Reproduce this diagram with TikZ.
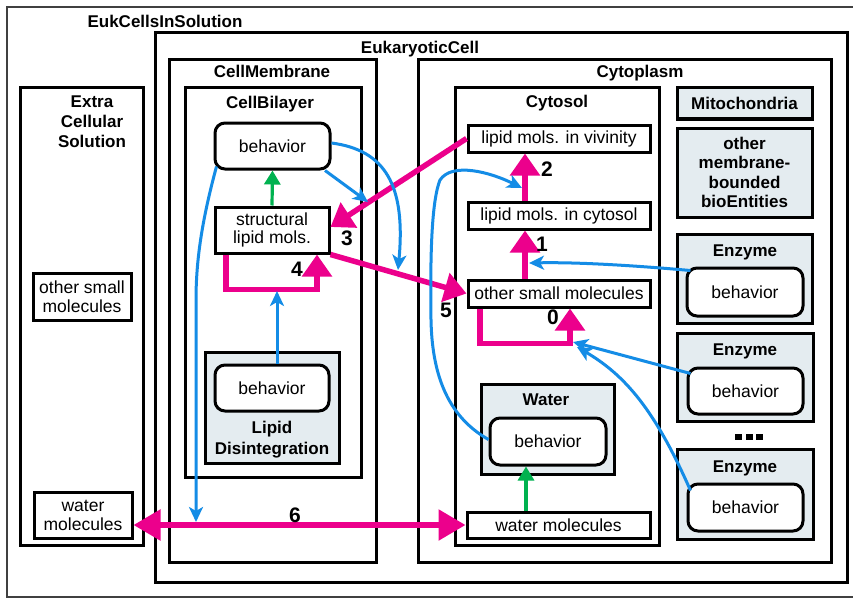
\documentclass[tikz,border=0pt]{standalone}
\usepackage{fontspec}
\setmainfont{Liberation Sans}
\usetikzlibrary{arrows.meta,calc}
\definecolor{mpink}{RGB}{236,0,140}
\definecolor{mblue}{RGB}{20,140,230}
\definecolor{mgreen}{RGB}{0,178,80}
\definecolor{mgray}{RGB}{228,236,240}
\newcommand\regf{\fontsize{17.5}{18}\selectfont}
\newcommand\boldf{\bfseries\fontsize{17}{19.5}\selectfont}
\begin{document}
\begin{tikzpicture}[x=1pt,y=-1pt,
  cont/.style={draw, line width=3pt, inner sep=0pt},
  gcont/.style={cont, fill=mgray},
  ttl/.style={font=\boldf, anchor=base, inner sep=0pt, align=center},
  txt/.style={draw, line width=3pt, fill=white, inner sep=0pt, align=center, font=\regf},
  beh/.style={txt, rounded corners=10pt},
  num/.style={font=\bfseries\fontsize{21}{22}\selectfont, inner sep=0pt},
  parr/.style={draw=mpink, line width=5.5pt, line join=miter, -{Triangle[length=22pt,width=29pt]}},
  barr/.style={draw=mblue, line width=3pt, -{Stealth[length=15pt,width=14pt,inset=4pt]}},
  garr/.style={draw=mgreen, line width=3.2pt, -{Triangle[length=14pt,width=16pt]}},
]
\useasboundingbox (0,0) rectangle (853,599);
\fill[white] (0,0) rectangle (853,599);

% containers
\node[draw=black!75, line width=2pt, minimum width=849pt, minimum height=590pt] (outer) at (431.5,302) {};
\node[ttl] (outerT) at (165,28) {EukCellsInSolution};
\node[cont, minimum width=692pt, minimum height=549pt] (euk) at (501,307.5) {};
\node[ttl] (eukT) at (420,54) {EukaryoticCell};
\node[cont, minimum width=207pt, minimum height=502pt] (memb) at (272.5,311) {};
\node[ttl] (membT) at (272,78) {CellMembrane};
\node[cont, minimum width=176pt, minimum height=389pt] (bil) at (273,282.5) {};
\node[ttl] (bilT) at (270,109) {CellBilayer};
\node[cont, minimum width=123pt, minimum height=457pt] (ext) at (81.5,316.5) {};
\node[ttl, anchor=north] (extT) at (92,95.8) {Extra\\[0.5pt]Cellular\\[0.5pt]Solution};
\node[cont, minimum width=413pt, minimum height=502pt] (cyto) at (624.5,311) {};
\node[ttl] (cytoT) at (640,78) {Cytoplasm};
\node[cont, minimum width=204pt, minimum height=457pt] (csol) at (557,316.5) {};
\node[ttl] (csolT) at (557,108) {Cytosol};

% lipid disintegration
\node[gcont, minimum width=134pt, minimum height=111pt] (ld) at (272,407.5) {};
\node[ttl, anchor=north] (ldT) at (272,421) {Lipid\\[1pt]Disintegration};
\node[beh, minimum width=114pt, minimum height=46pt] (ldbeh) at (272,388) {behavior};

% bilayer nodes
\node[beh, minimum width=115pt, minimum height=46pt] (bilbeh) at (272.5,146) {behavior};
\node[txt, minimum width=114pt, minimum height=46pt] (struct) at (272,230) {structural\\lipid mols.};

% extracellular nodes
\node[txt, minimum width=98pt, minimum height=47pt] (extsmall) at (82,296.5) {other small\\[1pt]molecules};
\node[txt, minimum width=98pt, minimum height=46pt] (extwater) at (83,515) {water\\[1pt]molecules};

% cytosol nodes
\node[txt, minimum width=182pt, minimum height=27pt] (lviv) at (559,138.5) {lipid mols. in vivinity};
\node[txt, minimum width=182pt, minimum height=27pt] (lcyt) at (559,215.5) {lipid mols. in cytosol};
\node[txt, minimum width=182pt, minimum height=27pt] (other) at (559,293.5) {other small molecules};
\node[gcont, minimum width=133pt, minimum height=90pt] (water) at (547.5,429) {};
\node[ttl] (waterT) at (546,405) {Water};
\node[beh, minimum width=116pt, minimum height=47pt] (waterbeh) at (548,441.5) {behavior};
\node[txt, minimum width=183pt, minimum height=26pt] (watermol) at (558.5,525) {water molecules};

% right column
\node[gcont, minimum width=135pt, minimum height=31pt, font=\boldf] (mito) at (744.5,103.5) {Mitochondria};
\node[gcont, minimum width=135pt, minimum height=89pt, font=\boldf, align=center] (mbb) at (744.5,172.5) {other\\membrane-\\bounded\\bioEntities};
\node[gcont, minimum width=135pt, minimum height=89pt] (enz1) at (744.5,278.5) {};
\node[ttl] (enz1T) at (745,256) {Enzyme};
\node[beh, minimum width=116pt, minimum height=48pt] (beh1) at (745,292) {behavior};
\node[gcont, minimum width=136pt, minimum height=88pt] (enz2) at (745,377) {};
\node[ttl] (enz2T) at (745,355) {Enzyme};
\node[beh, minimum width=115pt, minimum height=46pt] (beh2) at (745.5,391) {behavior};
\node[gcont, minimum width=136pt, minimum height=90pt] (enz3) at (745,494) {};
\node[ttl] (enz3T) at (745,472) {Enzyme};
\node[beh, minimum width=115pt, minimum height=47pt] (beh3) at (745.5,507.5) {behavior};
\fill (735,434) rectangle +(7,6);
\fill (745.5,434) rectangle +(7,6);
\fill (756,434) rectangle +(7,6);

% coordinates on arrows
\coordinate (c2) at (522,188);
\coordinate (c1) at (529,263);
\coordinate (c0) at (573,342);
\coordinate (c0b) at (577,347);
\coordinate (c4) at (277,291);
\coordinate (c6) at (196,522);
\coordinate (cA) at (398,270);
\coordinate (cB) at (368,202);

% pink arrows
\draw[parr] (lviv.west) -- ([yshift=3pt]struct.east);
\draw[parr] (struct.south east) -- (other.west);
\draw[parr] ([xshift=-34pt]lcyt.north) -- ([xshift=-34pt]lviv.south);
\draw[parr] ([xshift=-34pt]other.north) -- ([xshift=-34pt]lcyt.south);
\draw[parr] ([xshift=-46pt]struct.south) -- ++(0,35) -| ([xshift=45pt]struct.south);
\draw[parr] ([xshift=-79pt]other.south) -- ++(0,35) -| ([xshift=11pt]other.south);
\draw[draw=mpink, line width=5.5pt, {Triangle[length=27pt,width=30pt]}-{Triangle[length=27pt,width=30pt]}] (extwater.east |- watermol.west) -- (watermol.west);

% green arrows
\draw[garr] (struct.north) -- (bilbeh.south);
\draw[garr] ([xshift=-32.5pt]watermol.north) -- ([xshift=-32.5pt]watermol.north |- waterbeh.south);

% blue arrows
\draw[barr] ([shift={(3pt,4pt)}]bilbeh.south west) .. controls (202,220) and (196,260) .. (196,300) -- (c6);
\draw[barr] (bilbeh.-25) -- (cB);
\draw[barr] ([yshift=3pt]bilbeh.east) .. controls (385,150) and (406,185) .. (cA);
\draw[barr] ([xshift=5pt]ldbeh.north) -- (c4);
\draw[barr] ([yshift=2pt]waterbeh.west) .. controls (445,415) and (432,370) .. (431,320)
   .. controls (430,250) and (432,200) .. (440,180) .. controls (452,162) and (490,172) .. (c2);
\draw[barr] ([shift={(5pt,-4pt)}]beh1.north west) .. controls (640,266) and (580,262) .. (c1);
\draw[barr] ([shift={(4pt,-7pt)}]beh2.north west) -- (c0);
\draw[barr] ([shift={(4pt,-8pt)}]beh3.north west) .. controls (655,410) and (625,375) .. (c0b);

% numbers
\node[num] (n0) at (553,317) {0};
\node[num] (n1) at (542,244) {1};
\node[num] (n2) at (547,169) {2};
\node[num] (n3) at (347,238) {3};
\node[num] (n4) at (297,269) {4};
\node[num] (n5) at (446,310) {5};
\node[num] (n6) at (295,515) {6};
\end{tikzpicture}
\end{document}
